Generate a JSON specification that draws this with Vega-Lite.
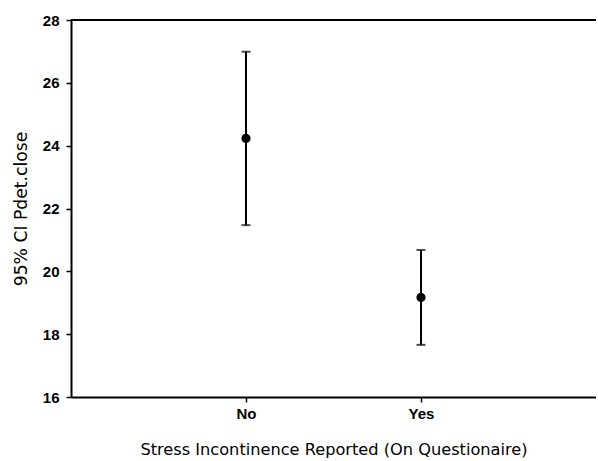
{
  "$schema": "https://vega.github.io/schema/vega-lite/v6.json",
  "width": 525,
  "height": 377,
  "autosize": {"type": "none"},
  "padding": {"left": 71, "top": 20, "right": 0, "bottom": 64},
  "background": "white",
  "config": {
    "view": {"stroke": null},
    "font": "Liberation Sans"
  },
  "data": {
    "values": [
      {"group": "No", "mean": 24.23, "lower": 21.47, "upper": 26.99},
      {"group": "Yes", "mean": 19.17, "lower": 17.66, "upper": 20.68}
    ]
  },
  "encoding": {
    "x": {
      "field": "group",
      "type": "nominal",
      "sort": ["No", "Yes"],
      "scale": {"type": "point", "padding": 1},
      "axis": {
        "title": "Stress Incontinence Reported (On Questionaire)",
        "titleFont": "DejaVu Sans",
        "titleFontSize": 16.2,
        "titleFontWeight": "normal",
        "titleColor": "black",
        "titlePadding": 20,
        "labelFont": "Liberation Sans",
        "labelFontSize": 15,
        "labelFontWeight": "bold",
        "labelColor": "black",
        "labelAngle": 0,
        "labelPadding": 4,
        "tickColor": "black",
        "tickSize": 5,
        "tickWidth": 1.5,
        "domainColor": "black",
        "domainWidth": 2,
        "grid": false
      }
    }
  },
  "layer": [
    {
      "mark": {"type": "rule", "color": "black", "strokeWidth": 2},
      "encoding": {
        "x": null,
        "y": {"datum": 28, "type": "quantitative"}
      }
    },
    {
      "mark": {"type": "rule", "color": "black", "strokeWidth": 2},
      "encoding": {
        "y": {
          "field": "lower",
          "type": "quantitative",
          "scale": {"domain": [16, 28], "nice": false, "zero": false},
          "axis": {
            "title": "95% CI Pdet.close",
            "titleFont": "DejaVu Sans",
            "titleFontSize": 17.2,
            "titleFontWeight": "normal",
            "titleColor": "black",
            "titlePadding": 12,
            "values": [16, 18, 20, 22, 24, 26, 28],
            "labelFont": "Liberation Sans",
            "labelFontSize": 15,
            "labelFontWeight": "bold",
            "labelColor": "black",
            "labelPadding": 7,
            "tickColor": "black",
            "tickSize": 5,
            "tickWidth": 1.5,
            "domainColor": "black",
            "domainWidth": 2,
            "grid": false
          }
        },
        "y2": {"field": "upper"}
      }
    },
    {
      "mark": {"type": "tick", "color": "black", "orient": "horizontal", "size": 9, "thickness": 2},
      "encoding": {"y": {"field": "lower", "type": "quantitative"}}
    },
    {
      "mark": {"type": "tick", "color": "black", "orient": "horizontal", "size": 9, "thickness": 2},
      "encoding": {"y": {"field": "upper", "type": "quantitative"}}
    },
    {
      "mark": {"type": "point", "filled": true, "color": "black", "opacity": 1, "size": 85},
      "encoding": {"y": {"field": "mean", "type": "quantitative"}}
    }
  ]
}
